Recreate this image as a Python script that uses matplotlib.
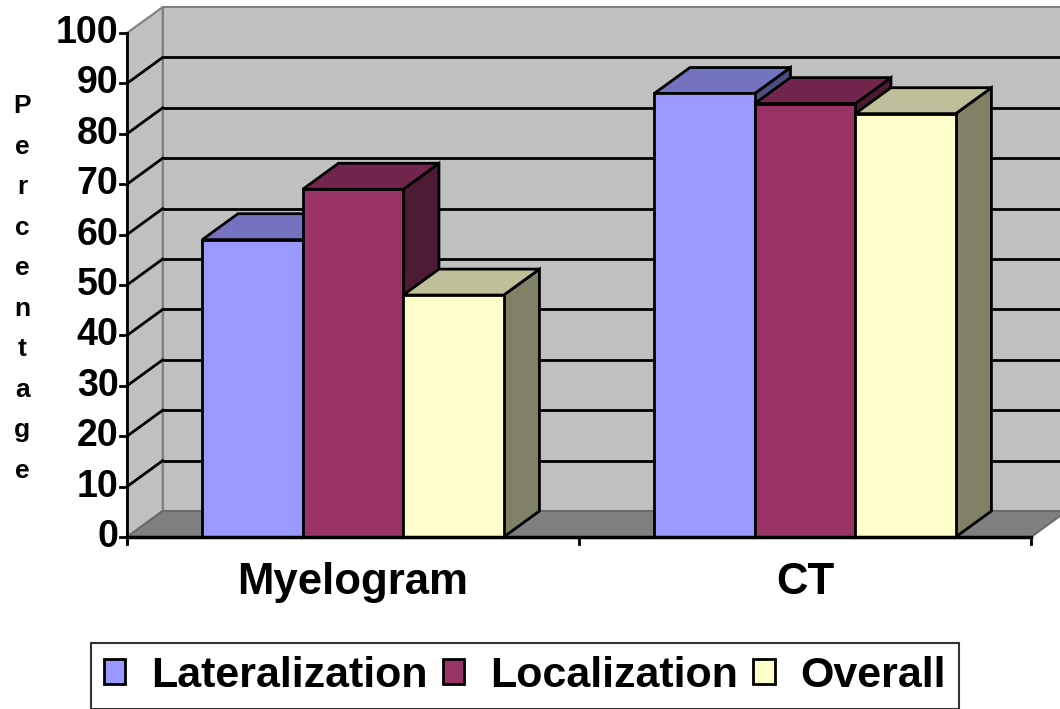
import matplotlib
matplotlib.use("Agg")
import matplotlib.pyplot as plt
from matplotlib.patches import Polygon, Patch

# ---- data ----
categories = ["Myelogram", "CT"]
series_names = ["Lateralization", "Localization", "Overall"]
lateralization = [59, 88]
localization = [69, 86]
overall = [48, 84]
y_ticks = [0, 10, 20, 30, 40, 50, 60, 70, 80, 90, 100]
y_title = "Percentage"

# ---- style ----
front_colors = ["#9999FF", "#993366", "#FFFFCC"]
top_colors = ["#7373BF", "#73264D", "#BFBF99"]
side_colors = ["#4D4D80", "#4D1A33", "#808066"]
wall_color = "#C0C0C0"
floor_color = "#808080"
edge_gray = "#808080"

plt.rcParams["font.family"] = ["Liberation Sans", "DejaVu Sans"]
plt.rcParams["font.weight"] = "bold"

fig = plt.figure(figsize=(10.6, 7.09), dpi=100)
ax = fig.add_axes([0, 0, 1, 1])
# one category = 452 px wide, one percent = 5.04 px tall
ax.set_xlim(-127 / 452, (1060 - 127) / 452)
ax.set_ylim(-172 / 5.04, (709 - 172) / 5.04)
ax.axis("off")

n_cat = len(categories)
ymax = y_ticks[-1]
dx, dy = 0.079, 5.15       # depth of the 3-D box in data units
bar_w = 0.2223             # width of one column (category units)

# side wall
ax.add_patch(Polygon([(0, 0), (0, ymax), (dx, ymax + dy), (dx, dy)],
                     closed=True, facecolor=wall_color, edgecolor=edge_gray, lw=1.5, zorder=1))
# back wall
ax.add_patch(Polygon([(dx, dy), (dx, ymax + dy), (n_cat + dx, ymax + dy), (n_cat + dx, dy)],
                     closed=True, facecolor=wall_color, edgecolor=edge_gray, lw=1.5, zorder=1))
# floor
ax.add_patch(Polygon([(0, 0), (n_cat, 0), (n_cat + dx, dy), (dx, dy)],
                     closed=True, facecolor=floor_color, edgecolor="#6A6A6A", lw=1.5, zorder=1))

# gridlines on back and side walls
for t in y_ticks[1:-1]:
    ax.plot([dx, n_cat + dx], [t + dy, t + dy], color="black", lw=2, zorder=2,
            solid_capstyle="butt")
    ax.plot([0, dx], [t, t + dy], color="black", lw=2, zorder=2)

# columns
values = [lateralization, localization, overall]
for i in range(n_cat):
    start = i + (1 - len(values) * bar_w) / 2
    for j, vals in enumerate(values):
        v = vals[i]
        x0 = start + j * bar_w
        x1 = x0 + bar_w
        kw = dict(closed=True, edgecolor="black", lw=2, joinstyle="miter", zorder=3)
        ax.add_patch(Polygon([(x1, 0), (x1 + dx, dy), (x1 + dx, v + dy), (x1, v)],
                             facecolor=side_colors[j], **kw))
        ax.add_patch(Polygon([(x0, v), (x1, v), (x1 + dx, v + dy), (x0 + dx, v + dy)],
                             facecolor=top_colors[j], **kw))
        ax.add_patch(Polygon([(x0, 0), (x1, 0), (x1, v), (x0, v)],
                             facecolor=front_colors[j], **kw))

# value axis
tick_len_x = 7 / 452
ax.plot([0, 0], [-1.2, ymax], color="black", lw=2, zorder=4, solid_capstyle="butt")
for t in y_ticks:
    ax.plot([-tick_len_x, 0], [t, t], color="black", lw=2, zorder=4)
    ax.text(-0.019, t, str(t), ha="right", va="center", fontsize=27, fontweight="bold")

# category axis
ax.plot([0, n_cat], [0, 0], color="black", lw=2.5, zorder=4)
for k in range(n_cat + 1):
    ax.plot([k, k], [0, -1.3], color="black", lw=2, zorder=4)
for i, c in enumerate(categories):
    ax.text(i + 0.5, -9.1, c, ha="center", va="center", fontsize=31.5, fontweight="bold")

# stacked axis title
ax.text(-0.232, 49.3, "\n".join(y_title), ha="center", va="center",
        fontsize=19, fontweight="bold", linespacing=1.87)

# legend
handles = [Patch(facecolor=front_colors[j], edgecolor="black", lw=2) for j in range(3)]
leg = fig.legend(handles, series_names, loc="upper left",
                 bbox_to_anchor=(91 / 1060, 1 - 643 / 709), ncol=3,
                 prop={"size": 31, "weight": "bold"}, frameon=True, fancybox=False,
                 handlelength=0.5, handleheight=0.5, handletextpad=0.6,
                 columnspacing=0.35, borderpad=0.3, borderaxespad=0)
leg.get_frame().set_edgecolor("black")
leg.get_frame().set_linewidth(1.5)

fig.savefig("out.png", dpi=100)
